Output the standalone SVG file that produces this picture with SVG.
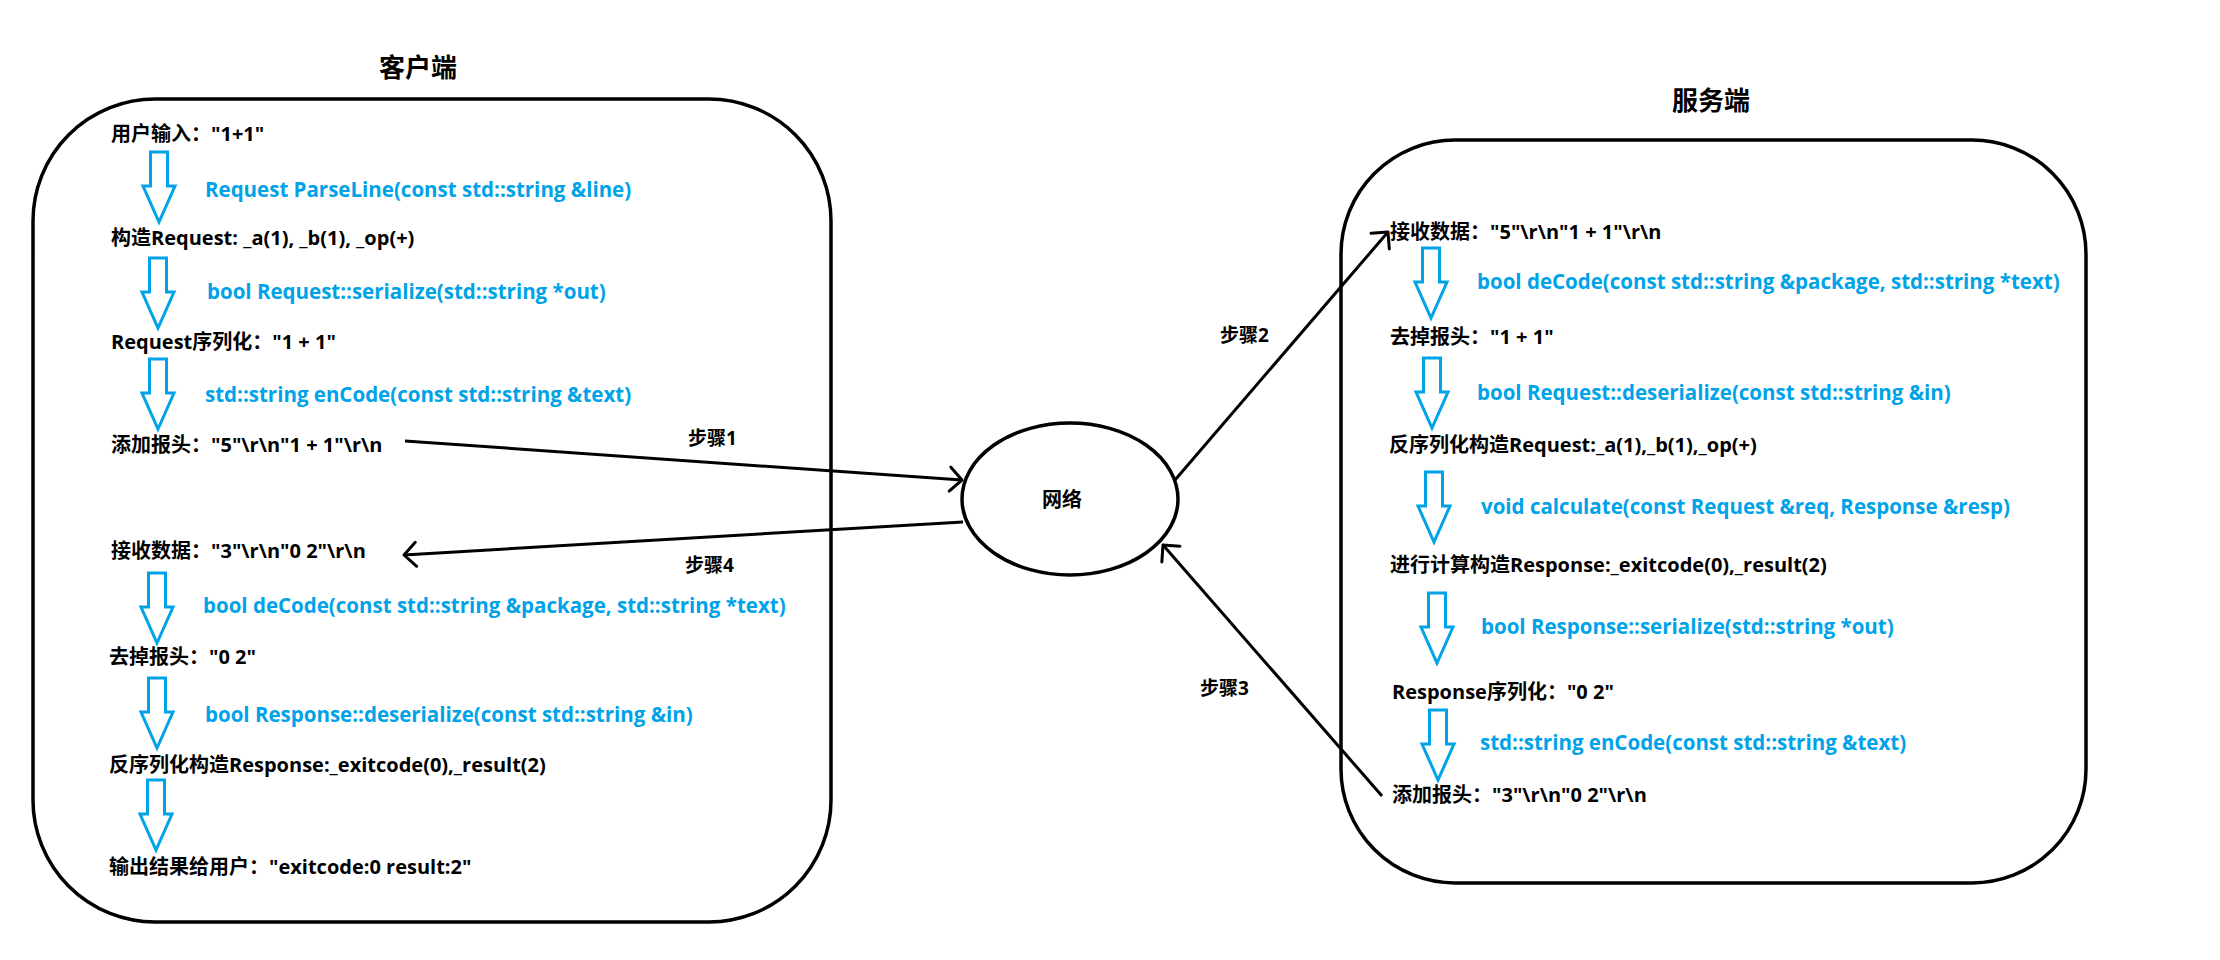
<svg xmlns="http://www.w3.org/2000/svg" width="2220" height="960" viewBox="0 0 2220 960">
<style>
.t{font-family:"Open Sans","Noto Sans CJK SC",sans-serif;font-weight:bold;font-size:20px;fill:#000}
.b{font-family:"Open Sans","Noto Sans CJK SC",sans-serif;font-weight:bold;font-size:20.5px;fill:#00A2E8}
.h{font-family:"Noto Sans CJK SC",sans-serif;font-weight:bold;font-size:26px;fill:#000}
.s{font-family:"Open Sans","Noto Sans CJK SC",sans-serif;font-weight:bold;font-size:19px;fill:#000}
.box{fill:none;stroke:#000;stroke-width:3.5}
.ar{fill:#fff;stroke:#00A2E8;stroke-width:3;stroke-linejoin:miter}
.cn{fill:none;stroke:#000;stroke-width:3}
</style>
<defs>
<path id="da" d="M-8.5,0 H8.5 V34 H16 L0,70 L-16,34 H-8.5 Z"/>
<marker id="oa" viewBox="-16 -16 20 32" markerWidth="20" markerHeight="32" refX="0" refY="0" markerUnits="userSpaceOnUse" orient="auto">
<path d="M-12,-12 L0,0 L-12,12" fill="none" stroke="#000" stroke-width="3" stroke-linecap="round" stroke-linejoin="round"/>
</marker>
</defs>
<rect width="2220" height="960" fill="#fff"/>

<g id="client">
<text class="h" x="418" y="77" text-anchor="middle">客户端</text>
<rect class="box" x="33" y="99" width="798" height="823" rx="122" ry="122"/>
<text class="t" x="111" y="141">用户输入："1+1"</text>
<use href="#da" class="ar" x="159" y="152"/>
<text class="b" x="205" y="197">Request ParseLine(const std::string &amp;line)</text>
<text class="t" x="111" y="245">构造Request: _a(1), _b(1), _op(+)</text>
<use href="#da" class="ar" x="158" y="258"/>
<text class="b" x="207" y="299">bool Request::serialize(std::string *out)</text>
<text class="t" x="111" y="349">Request序列化："1 + 1"</text>
<use href="#da" class="ar" x="158" y="359"/>
<text class="b" x="205" y="402">std::string enCode(const std::string &amp;text)</text>
<text class="t" x="111" y="452">添加报头："5"\r\n"1 + 1"\r\n</text>
<text class="t" x="111" y="558">接收数据："3"\r\n"0 2"\r\n</text>
<use href="#da" class="ar" x="157" y="573"/>
<text class="b" x="203" y="613">bool deCode(const std::string &amp;package, std::string *text)</text>
<text class="t" x="109" y="664">去掉报头："0 2"</text>
<use href="#da" class="ar" x="157" y="678"/>
<text class="b" x="205" y="722">bool Response::deserialize(const std::string &amp;in)</text>
<text class="t" x="109" y="772">反序列化构造Response:_exitcode(0),_result(2)</text>
<use href="#da" class="ar" x="156" y="780"/>
<text class="t" x="109" y="874">输出结果给用户："exitcode:0 result:2"</text>
</g>

<g id="network">
<ellipse class="box" cx="1070" cy="499" rx="108" ry="76"/>
<text class="t" x="1062" y="507" text-anchor="middle">网络</text>
</g>

<g id="server">
<text class="h" x="1711" y="110" text-anchor="middle">服务端</text>
<rect class="box" x="1341" y="140" width="745" height="743" rx="114" ry="114"/>
<text class="t" x="1390" y="239">接收数据："5"\r\n"1 + 1"\r\n</text>
<use href="#da" class="ar" x="1431" y="248"/>
<text class="b" x="1477" y="289">bool deCode(const std::string &amp;package, std::string *text)</text>
<text class="t" x="1390" y="344">去掉报头："1 + 1"</text>
<use href="#da" class="ar" x="1432" y="358"/>
<text class="b" x="1477" y="400">bool Request::deserialize(const std::string &amp;in)</text>
<text class="t" x="1389" y="452">反序列化构造Request:_a(1),_b(1),_op(+)</text>
<use href="#da" class="ar" x="1434" y="472"/>
<text class="b" x="1481" y="514">void calculate(const Request &amp;req, Response &amp;resp)</text>
<text class="t" x="1390" y="572">进行计算构造Response:_exitcode(0),_result(2)</text>
<use href="#da" class="ar" x="1437" y="593"/>
<text class="b" x="1481" y="634">bool Response::serialize(std::string *out)</text>
<text class="t" x="1392" y="699">Response序列化："0 2"</text>
<use href="#da" class="ar" x="1438" y="710"/>
<text class="b" x="1480" y="750">std::string enCode(const std::string &amp;text)</text>
<text class="t" x="1392" y="802">添加报头："3"\r\n"0 2"\r\n</text>
</g>

<g id="connectors">
<path class="cn" d="M405,441 L962,480" marker-end="url(#oa)"/>
<path class="cn" d="M1175,480 L1388,232" marker-end="url(#oa)"/>
<path class="cn" d="M1382,796 L1163,545" marker-end="url(#oa)"/>
<path class="cn" d="M963,522 L404,555" marker-end="url(#oa)"/>
<text class="s" x="688" y="445">步骤1</text>
<text class="s" x="1220" y="342">步骤2</text>
<text class="s" x="1200" y="695">步骤3</text>
<text class="s" x="685" y="572">步骤4</text>
</g>
</svg>
